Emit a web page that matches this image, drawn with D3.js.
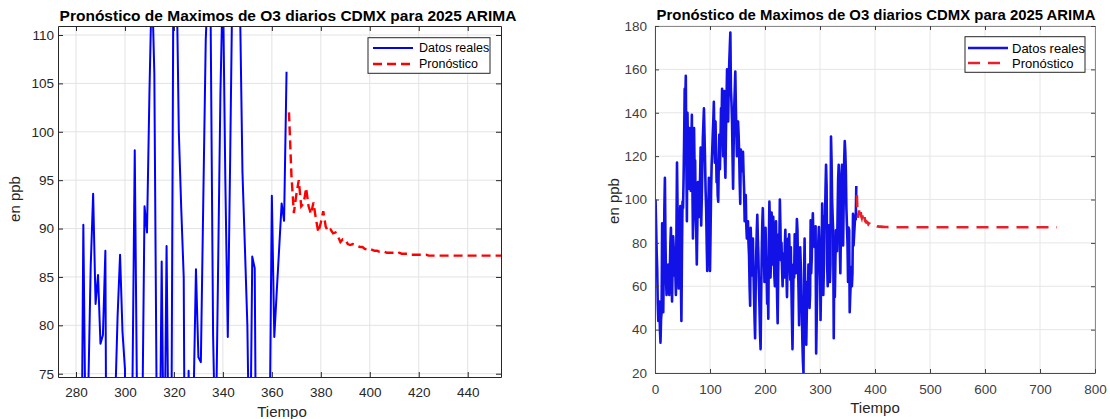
<!DOCTYPE html>
<html>
<head>
<meta charset="utf-8">
<script src="https://cdn.jsdelivr.net/npm/d3@7"></script>
<style>
  body { margin: 0; background: #fff; }
  svg text { font-family: "Liberation Sans", Arial, Helvetica, sans-serif; }
</style>
</head>
<body>
<svg id="chart" width="1110" height="419"></svg>
<script>
// Texts
const titleText = "Pronóstico de Maximos de O3 diarios CDMX para 2025 ARIMA";
const xLabel = "Tiempo";
const yLabel = "en ppb";
const legendLabels = ["Datos reales", "Pronóstico"];

// Observed daily maxima (day 1 .. 366)
const realStart = 1;
const realValues = [
  100, 88, 76, 68, 52, 44, 50, 53, 40, 34,
  45, 48, 89, 62, 48, 70, 95, 110, 82, 64,
  56, 63, 68, 70, 60, 56, 68, 80, 87, 66,
  53, 70, 83, 78, 65, 74, 66, 56, 85, 117,
  96, 75, 59, 72, 88, 97, 65, 44, 75, 99,
  96, 110, 128, 151, 145, 157, 118, 90, 140, 124,
  105, 120, 133, 116, 104, 122, 139, 108, 82, 110,
  133, 113, 118, 91, 85, 70, 88, 108, 97, 92,
  105, 110, 124, 88, 100, 114, 128, 135, 142, 130,
  118, 104, 96, 80, 67, 84, 96, 110, 90, 67,
  85, 104, 116, 122, 130, 136, 145, 128, 117, 136,
  122, 108, 115, 102, 99, 118, 130, 114, 125, 142,
  135, 151, 138, 120, 137, 150, 118, 110, 131, 144,
  160, 150, 136, 152, 163, 170, 177, 151, 145, 137,
  120, 105, 125, 142, 150, 159, 143, 130, 120, 128,
  136, 130, 122, 108, 98, 123, 118, 113, 118, 122,
  112, 105, 90, 95, 102, 88, 82, 86, 90, 80,
  74, 60, 51, 87, 78, 65, 72, 82, 68, 56,
  45, 36, 58, 74, 85, 93, 82, 74, 60, 50,
  38, 31, 55, 74, 88, 96, 85, 77, 62, 72,
  87, 74, 65, 52, 62, 45, 80, 99, 88, 64,
  72, 94, 86, 70, 92, 80, 65, 60, 78, 90,
  72, 55, 43, 66, 84, 78, 100, 88, 72, 80,
  68, 60, 75, 70, 64, 78, 86, 72, 66, 55,
  70, 82, 75, 84, 70, 63, 78, 60, 45, 31,
  52, 70, 64, 84, 73, 66, 80, 91, 86, 70,
  58, 42, 60, 78, 70, 56, 49, 34, 25, 20,
  64, 82, 58, 40, 33, 48, 62, 55, 70, 64,
  50, 56, 90.4, 66, 73, 86, 93.6, 82.2, 85.2, 78.1,
  79, 87.7, 29, 45, 60, 72, 81, 87.3, 79.3, 75.5,
  44.5, 62, 72, 98.1, 70, 56, 68, 92.3, 89.6, 104,
  116, 106, 70, 60, 86.6, 62, 88.2, 62, 70, 129,
  118, 100, 92, 85, 36, 75.3, 55, 72, 85.8, 76.7,
  76.2, 93, 109.5, 116, 111.5, 79, 66, 85, 104, 116,
  95, 78.8, 97.7, 118, 127, 122, 113, 95.8, 88, 80,
  62, 87.1, 85.9, 48, 56, 62, 69, 60, 66, 93.4,
  78.8, 83.5, 88, 92.6, 90.8, 106.2
];

// ARIMA forecast (day 367 .. 731)
const forecastStart = 367;
const forecastValues = [
  102.0, 95.5, 91.6, 93.5, 95.0, 92.3, 92.6, 94.2, 92.3, 91.5,
  92.7, 91.0, 89.6, 90.6, 91.8, 90.2, 89.7, 89.9, 89.5, 89.6,
  89.2, 88.6, 88.9, 88.9, 88.4, 88.3, 88.4, 88.3, 88.2, 88.1,
  88.1, 87.9, 87.8, 87.9, 87.8, 87.7, 87.7, 87.6, 87.6, 87.6,
  87.5, 87.5, 87.5, 87.5, 87.4, 87.5, 87.4, 87.4, 87.4, 87.4,
  87.3, 87.3, 87.3, 87.3, 87.3, 87.3, 87.3, 87.2, 87.2, 87.2,
  87.2, 87.2, 87.2, 87.2, 87.2, 87.2, 87.2, 87.2, 87.2, 87.2,
  87.2, 87.2, 87.2, 87.2, 87.2, 87.2, 87.2, 87.2, 87.2, 87.2,
  87.2, 87.2, 87.2, 87.2, 87.2, 87.2, 87.2, 87.2, 87.2, 87.2,
  87.2, 87.2, 87.2, 87.2, 87.2, 87.2, 87.2, 87.2, 87.2, 87.2,
  87.2, 87.2, 87.2, 87.2, 87.2, 87.2, 87.2, 87.2, 87.2, 87.2,
  87.2, 87.2, 87.2, 87.2, 87.2, 87.2, 87.2, 87.2, 87.2, 87.2,
  87.2, 87.2, 87.2, 87.2, 87.2, 87.2, 87.2, 87.2, 87.2, 87.2,
  87.2, 87.2, 87.2, 87.2, 87.2, 87.2, 87.2, 87.2, 87.2, 87.2,
  87.2, 87.2, 87.2, 87.2, 87.2, 87.2, 87.2, 87.2, 87.2, 87.2,
  87.2, 87.2, 87.2, 87.2, 87.2, 87.2, 87.2, 87.2, 87.2, 87.2,
  87.2, 87.2, 87.2, 87.2, 87.2, 87.2, 87.2, 87.2, 87.2, 87.2,
  87.2, 87.2, 87.2, 87.2, 87.2, 87.2, 87.2, 87.2, 87.2, 87.2,
  87.2, 87.2, 87.2, 87.2, 87.2, 87.2, 87.2, 87.2, 87.2, 87.2,
  87.2, 87.2, 87.2, 87.2, 87.2, 87.2, 87.2, 87.2, 87.2, 87.2,
  87.2, 87.2, 87.2, 87.2, 87.2, 87.2, 87.2, 87.2, 87.2, 87.2,
  87.2, 87.2, 87.2, 87.2, 87.2, 87.2, 87.2, 87.2, 87.2, 87.2,
  87.2, 87.2, 87.2, 87.2, 87.2, 87.2, 87.2, 87.2, 87.2, 87.2,
  87.2, 87.2, 87.2, 87.2, 87.2, 87.2, 87.2, 87.2, 87.2, 87.2,
  87.2, 87.2, 87.2, 87.2, 87.2, 87.2, 87.2, 87.2, 87.2, 87.2,
  87.2, 87.2, 87.2, 87.2, 87.2, 87.2, 87.2, 87.2, 87.2, 87.2,
  87.2, 87.2, 87.2, 87.2, 87.2, 87.2, 87.2, 87.2, 87.2, 87.2,
  87.2, 87.2, 87.2, 87.2, 87.2, 87.2, 87.2, 87.2, 87.2, 87.2,
  87.2, 87.2, 87.2, 87.2, 87.2, 87.2, 87.2, 87.2, 87.2, 87.2,
  87.2, 87.2, 87.2, 87.2, 87.2, 87.2, 87.2, 87.2, 87.2, 87.2,
  87.2, 87.2, 87.2, 87.2, 87.2, 87.2, 87.2, 87.2, 87.2, 87.2,
  87.2, 87.2, 87.2, 87.2, 87.2, 87.2, 87.2, 87.2, 87.2, 87.2,
  87.2, 87.2, 87.2, 87.2, 87.2, 87.2, 87.2, 87.2, 87.2, 87.2,
  87.2, 87.2, 87.2, 87.2, 87.2, 87.2, 87.2, 87.2, 87.2, 87.2,
  87.2, 87.2, 87.2, 87.2, 87.2, 87.2, 87.2, 87.2, 87.2, 87.2,
  87.2, 87.2, 87.2, 87.2, 87.2, 87.2, 87.2, 87.2, 87.2, 87.2,
  87.2, 87.2, 87.2, 87.2, 87.2
];

// Tick values of the zoomed (left) and full (right) views
const zoomXTicks = [280, 300, 320, 340, 360, 380, 400, 420, 440];
const zoomYTicks = [75, 80, 85, 90, 95, 100, 105, 110];
const fullXTicks = [0, 100, 200, 300, 400, 500, 600, 700, 800];
const fullYTicks = [20, 40, 60, 80, 100, 120, 140, 160, 180];

const realSeries = realValues.map((v, i) => ({ t: realStart + i, v }));
const forecastSeries = forecastValues.map((v, i) => ({ t: forecastStart + i, v }));

const svg = d3.select('#chart');

// layout / style of both panels
const panels = [
  {
    id: 'zoom', left: 58, right: 501, top: 26, bottom: 377,
    xDomain: [272.65, 453.6], yDomain: [74.66, 110.93],
    xTicks: zoomXTicks, yTicks: zoomYTicks,
    blue: '#0000ff', red: '#ff0000', blueWidth: 2, redWidth: 2.4, dash: '9,5',
    frame: '#262626', frameFar: '#262626', grid: '#e3e3e3', tickColor: '#262626',
    tickFont: 13.5, xPad: 10, yPad: 4, tickLen: 5,
    titleX: 288, titleY: 21, titleSize: 15.5,
    xLabelX: 282, xLabelY: 417, yLabelX: 20, yLabelY: 199, labelSize: 15,
    legend: { x: 368, y: 37.7, w: 122, h: 35.6, lx1: 373, lx2: 413, tx: 419, rows: [48, 64], size: 12.5 }
  },
  {
    id: 'full', left: 655, right: 1095, top: 26, bottom: 373,
    xDomain: [0, 800], yDomain: [20, 180],
    xTicks: fullXTicks, yTicks: fullYTicks,
    blue: '#1212e6', red: '#e8202a', blueWidth: 2.6, redWidth: 2.6, dash: '12,8',
    frame: '#4d4d4d', frameFar: '#8a8a8a', grid: '#e6e6e6', tickColor: '#404040',
    tickFont: 13.5, xPad: 11, yPad: 8, tickLen: 4,
    titleX: 876, titleY: 20, titleSize: 14.9,
    xLabelX: 875, xLabelY: 413, yLabelX: 619, yLabelY: 201, labelSize: 15,
    legend: { x: 965, y: 36.7, w: 120, h: 35.6, lx1: 968, lx2: 1008, tx: 1012, rows: [48, 63], size: 13 }
  }
];

function drawPanel(p) {
  const x = d3.scaleLinear().domain(p.xDomain).range([p.left, p.right]);
  const y = d3.scaleLinear().domain(p.yDomain).range([p.bottom, p.top]);
  const g = svg.append('g').attr('class', 'panel-' + p.id);

  // clip region = plot box
  svg.append('defs').append('clipPath').attr('id', 'clip-' + p.id)
    .append('rect')
    .attr('x', p.left).attr('y', p.top)
    .attr('width', p.right - p.left).attr('height', p.bottom - p.top);

  // grid
  g.append('g').selectAll('line.gx').data(p.xTicks).join('line')
    .attr('x1', d => x(d)).attr('x2', d => x(d))
    .attr('y1', p.top).attr('y2', p.bottom)
    .attr('stroke', p.grid).attr('stroke-width', 1);
  g.append('g').selectAll('line.gy').data(p.yTicks).join('line')
    .attr('x1', p.left).attr('x2', p.right)
    .attr('y1', d => y(d)).attr('y2', d => y(d))
    .attr('stroke', p.grid).attr('stroke-width', 1);

  // data
  const line = d3.line().x(d => x(d.t)).y(d => y(d.v));
  const plot = g.append('g').attr('clip-path', `url(#clip-${p.id})`);
  plot.append('path').datum(realSeries)
    .attr('d', line).attr('fill', 'none')
    .attr('stroke', p.blue).attr('stroke-width', p.blueWidth)
    .attr('stroke-linejoin', 'round');
  plot.append('path').datum(forecastSeries)
    .attr('d', line).attr('fill', 'none')
    .attr('stroke', p.red).attr('stroke-width', p.redWidth)
    .attr('stroke-dasharray', p.dash);

  // axes (ticks pointing inside, on all four sides)
  const styleAxis = (sel, color) => {
    sel.select('.domain').attr('stroke', color).attr('stroke-width', 1);
    sel.selectAll('.tick line').attr('stroke', p.tickColor);
    sel.selectAll('.tick text').attr('fill', p.tickColor).attr('font-size', p.tickFont);
  };
  g.append('g').attr('transform', `translate(0,${p.top})`)
    .call(d3.axisTop(x).tickValues(p.xTicks).tickSize(-p.tickLen).tickSizeOuter(0).tickFormat(''))
    .call(s => styleAxis(s, p.frameFar));
  g.append('g').attr('transform', `translate(${p.right},0)`)
    .call(d3.axisRight(y).tickValues(p.yTicks).tickSize(-p.tickLen).tickSizeOuter(0).tickFormat(''))
    .call(s => styleAxis(s, p.frameFar));
  g.append('g').attr('transform', `translate(0,${p.bottom})`)
    .call(d3.axisBottom(x).tickValues(p.xTicks).tickSize(-p.tickLen).tickSizeOuter(0).tickPadding(p.xPad))
    .call(s => styleAxis(s, p.frame));
  g.append('g').attr('transform', `translate(${p.left},0)`)
    .call(d3.axisLeft(y).tickValues(p.yTicks).tickSize(-p.tickLen).tickSizeOuter(0).tickPadding(p.yPad))
    .call(s => styleAxis(s, p.frame));

  // title and axis labels
  g.append('text').attr('x', p.titleX).attr('y', p.titleY)
    .attr('text-anchor', 'middle').attr('font-weight', 'bold')
    .attr('font-size', p.titleSize).attr('fill', '#000').text(titleText);
  g.append('text').attr('x', p.xLabelX).attr('y', p.xLabelY)
    .attr('text-anchor', 'middle').attr('font-size', p.labelSize)
    .attr('fill', '#262626').text(xLabel);
  g.append('text')
    .attr('transform', `translate(${p.yLabelX},${p.yLabelY}) rotate(-90)`)
    .attr('text-anchor', 'middle').attr('font-size', p.labelSize)
    .attr('fill', '#262626').text(yLabel);

  // legend
  const L = p.legend;
  const lg = g.append('g');
  lg.append('rect').attr('x', L.x).attr('y', L.y).attr('width', L.w).attr('height', L.h)
    .attr('fill', '#fff').attr('stroke', '#262626').attr('stroke-width', 1);
  const swatches = [
    { color: p.blue, width: p.blueWidth, dash: null },
    { color: p.red, width: p.redWidth, dash: p.dash }
  ];
  swatches.forEach((s, i) => {
    lg.append('line').attr('x1', L.lx1).attr('x2', L.lx2)
      .attr('y1', L.rows[i]).attr('y2', L.rows[i])
      .attr('stroke', s.color).attr('stroke-width', s.width)
      .attr('stroke-dasharray', s.dash);
    lg.append('text').attr('x', L.tx).attr('y', L.rows[i]).attr('dy', '0.35em')
      .attr('font-size', L.size).attr('fill', '#000').text(legendLabels[i]);
  });
}

panels.forEach(drawPanel);
</script>
</body>
</html>
